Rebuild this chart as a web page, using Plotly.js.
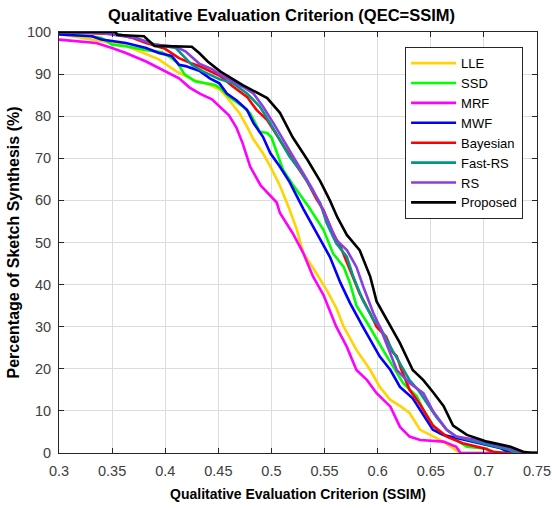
<!DOCTYPE html>
<html>
<head>
<meta charset="utf-8">
<script src="https://cdn.plot.ly/plotly-3.0.1.min.js"></script>
<style>html,body{margin:0;padding:0;background:#fff;}#chart{width:552px;height:508px;}</style>
</head>
<body>
<div id="chart"></div>
<script>
// ---- data ----
const seriesNames = ["LLE", "SSD", "MRF", "MWF", "Bayesian", "Fast-RS", "RS", "Proposed"];

const lleX = [0.30,0.32,0.331,0.36,0.38,0.394,0.41,0.425,0.444,0.452,0.458,0.464,0.47,0.477,0.483,0.492,0.499,0.508,0.516,0.524,0.53,0.542,0.552,0.561,0.568,0.58,0.593,0.602,0.612,0.622,0.63,0.64,0.656,0.671,0.677,0.75];
const lleY = [99.5,98.6,98.2,97,95,93.5,90.7,88.8,87.2,86.2,84.5,82.5,80.7,77.5,74.5,71.2,68,63.5,58.5,53,47.5,42.8,38.7,34.5,30,24.5,19.7,15.7,12.6,11,9.5,5.5,3.5,1.2,0,0];

const ssdX = [0.30,0.33,0.34,0.35,0.363,0.382,0.397,0.406,0.412,0.418,0.428,0.447,0.452,0.46,0.473,0.48,0.489,0.496,0.5,0.505,0.511,0.52,0.535,0.549,0.558,0.568,0.574,0.58,0.59,0.605,0.615,0.624,0.637,0.643,0.651,0.658,0.674,0.684,0.703,0.706,0.75];
const ssdY = [99.6,99,98.6,97,96.6,95.7,95.2,93.8,92.5,90,88.3,87.4,86.6,84.6,82.3,80.7,76.3,76,75,71.2,67.2,63.8,58.5,53,47.4,44.2,40.3,35,31,24.5,20.5,16.6,13.4,10.2,7,4.7,3.1,1.5,1,0,0];

const mrfX = [0.30,0.335,0.35,0.363,0.382,0.394,0.413,0.423,0.433,0.444,0.452,0.46,0.467,0.473,0.48,0.49,0.505,0.508,0.52,0.53,0.539,0.549,0.561,0.571,0.58,0.59,0.599,0.612,0.621,0.63,0.64,0.662,0.674,0.678,0.75];
const mrfY = [98.2,97.4,96.2,95,93,91.4,89,86.8,85.3,84,82,80.2,77.3,73.5,68,63.5,59.5,57,52.2,47.5,42,37.5,30,25.2,19.7,17.3,14.2,11,6.2,3.9,3.1,2.7,1.5,0,0];

const mwfX = [0.30,0.331,0.34,0.35,0.363,0.382,0.394,0.406,0.413,0.419,0.432,0.442,0.451,0.458,0.467,0.477,0.483,0.492,0.499,0.508,0.517,0.53,0.543,0.555,0.565,0.574,0.586,0.602,0.612,0.621,0.633,0.643,0.652,0.662,0.684,0.703,0.715,0.725,0.75];
const mwfY = [99.4,99,98.2,97.9,97.4,96.2,95,94.3,92.2,91.9,90.8,89,87.8,85.4,83.8,81.5,78.4,75.1,71.2,68,64.4,58,52.2,46.6,40.4,35.6,30,22.9,19.7,15.7,13,9,5.5,4.3,3.1,1.9,1.2,0,0];

const bayX = [0.30,0.355,0.369,0.382,0.40,0.413,0.425,0.433,0.452,0.464,0.477,0.486,0.496,0.508,0.52,0.533,0.542,0.549,0.558,0.565,0.574,0.583,0.593,0.599,0.608,0.614,0.618,0.622,0.63,0.64,0.652,0.665,0.68,0.70,0.709,0.72,0.75];
const bayY = [100,99.5,98.6,97.4,96,93.8,92.5,91.8,89.5,87,84.6,81.5,79.1,74.3,69.6,64.8,60.5,57.7,52.2,49,43.5,37.9,33.2,30,27.6,24,23,20,15,11.5,6.5,3.9,2.3,1.1,0.3,0,0];

const fastX = [0.30,0.35,0.372,0.391,0.41,0.419,0.425,0.435,0.451,0.464,0.477,0.489,0.499,0.508,0.517,0.527,0.536,0.546,0.552,0.561,0.571,0.577,0.586,0.596,0.602,0.612,0.621,0.63,0.638,0.646,0.655,0.665,0.674,0.693,0.712,0.725,0.73,0.75];
const fastY = [100,99.8,98.6,97,96.2,93.8,92.2,90.7,88.8,87.8,85.4,82.3,78.3,74.3,70.4,67.2,63.3,59.3,54.6,49.8,46.6,41.9,36.3,31.6,30,25.2,21.3,17.3,15,12,8.6,5.5,3.9,2.7,1.5,0.7,0,0];

const rsX = [0.30,0.34,0.372,0.39,0.41,0.419,0.432,0.444,0.452,0.473,0.483,0.492,0.502,0.511,0.5205,0.53,0.539,0.549,0.561,0.571,0.58,0.5865,0.596,0.602,0.608,0.618,0.63,0.643,0.652,0.665,0.674,0.693,0.712,0.725,0.734,0.738,0.75];
const rsY = [100,99.8,98.6,97,96.5,95.4,92.5,91.2,89.8,87,85.4,82.3,78.3,74.3,70.4,66.4,62.5,57.5,50.6,48.2,44.2,39.5,33.2,30,26,19.7,16.6,14.2,10,5.5,3.9,3.1,1.9,1.1,0.3,0,0];

const propX = [0.30,0.353,0.355,0.38,0.39,0.425,0.432,0.44,0.452,0.473,0.496,0.508,0.52,0.534,0.546,0.555,0.562,0.571,0.583,0.593,0.599,0.609,0.621,0.633,0.643,0.652,0.662,0.671,0.684,0.703,0.725,0.737,0.745,0.75];
const propY = [100,100,99.3,99,96.7,96.5,95,93,90.6,87.4,84.3,80.8,75,69.6,64.5,60,56,51.8,48.2,41.9,36,31.6,26.1,19.7,17.3,14.5,11.2,6.5,4.3,2.7,1.5,0.3,0,0];

const xTickVals = [0.3,0.35,0.4,0.45,0.5,0.55,0.6,0.65,0.7,0.75];
const xTickText = ["0.3","0.35","0.4","0.45","0.5","0.55","0.6","0.65","0.7","0.75"];
const yTickVals = [0,10,20,30,40,50,60,70,80,90,100];

// ---- styling ----
const colors = ["#ffd400", "#00ff00", "#ff00ff", "#0000ff", "#ff0000", "#00968a", "#8a3ee0", "#000000"];
const xs = [lleX, ssdX, mrfX, mwfX, bayX, fastX, rsX, propX];
const ys = [lleY, ssdY, mrfY, mwfY, bayY, fastY, rsY, propY];

const FONT = "Liberation Sans, Arial, Helvetica, sans-serif";

const traces = seriesNames.map((n, i) => ({
  type: "scatter",
  mode: "lines",
  name: n,
  x: xs[i],
  y: ys[i],
  line: {color: colors[i], width: 2.6},
  hoverinfo: "skip"
}));

const axisCommon = {
  showgrid: true,
  gridcolor: "#dcdcdc",
  gridwidth: 1,
  zeroline: false,
  showline: true,
  linecolor: "#262626",
  linewidth: 1,
  mirror: "ticks",
  ticks: "inside",
  ticklen: 5,
  tickcolor: "#262626",
  tickfont: {family: FONT, size: 14.5, color: "#404040"}
};

const layout = {
  width: 552,
  height: 508,
  margin: {l: 59, r: 15, t: 32, b: 55},
  paper_bgcolor: "#ffffff",
  plot_bgcolor: "#ffffff",
  font: {family: FONT, color: "#000"},
  title: {
    text: "<b>Qualitative Evaluation Criterion (QEC=SSIM)</b>",
    font: {family: FONT, size: 16.5, color: "#000"},
    x: 0.51, xanchor: "center",
    y: 0.97, yanchor: "middle", yref: "container"
  },
  xaxis: Object.assign({}, axisCommon, {
    range: [0.3, 0.75],
    tickvals: xTickVals,
    ticktext: xTickText,
    ticklabelstandoff: 5,
    title: {text: "<b>Qualitative Evaluation Criterion (SSIM)</b>", font: {family: FONT, size: 14, color: "#000"}, standoff: 10}
  }),
  yaxis: Object.assign({}, axisCommon, {
    range: [0, 100],
    tickvals: yTickVals,
    ticklabelstandoff: 4,
    title: {text: "<b>Percentage of Sketch Synthesis (%)</b>", font: {family: FONT, size: 16, color: "#000"}, standoff: 3}
  }),
  showlegend: true,
  legend: {
    x: 0.724, xanchor: "left",
    y: 0.964, yanchor: "top",
    bgcolor: "#ffffff",
    bordercolor: "#262626",
    borderwidth: 1,
    itemwidth: 45,
    font: {family: FONT, size: 13, color: "#000"},
    tracegroupgap: 0
  }
};

Plotly.newPlot("chart", traces, layout, {displayModeBar: false, staticPlot: true});
</script>
</body>
</html>
